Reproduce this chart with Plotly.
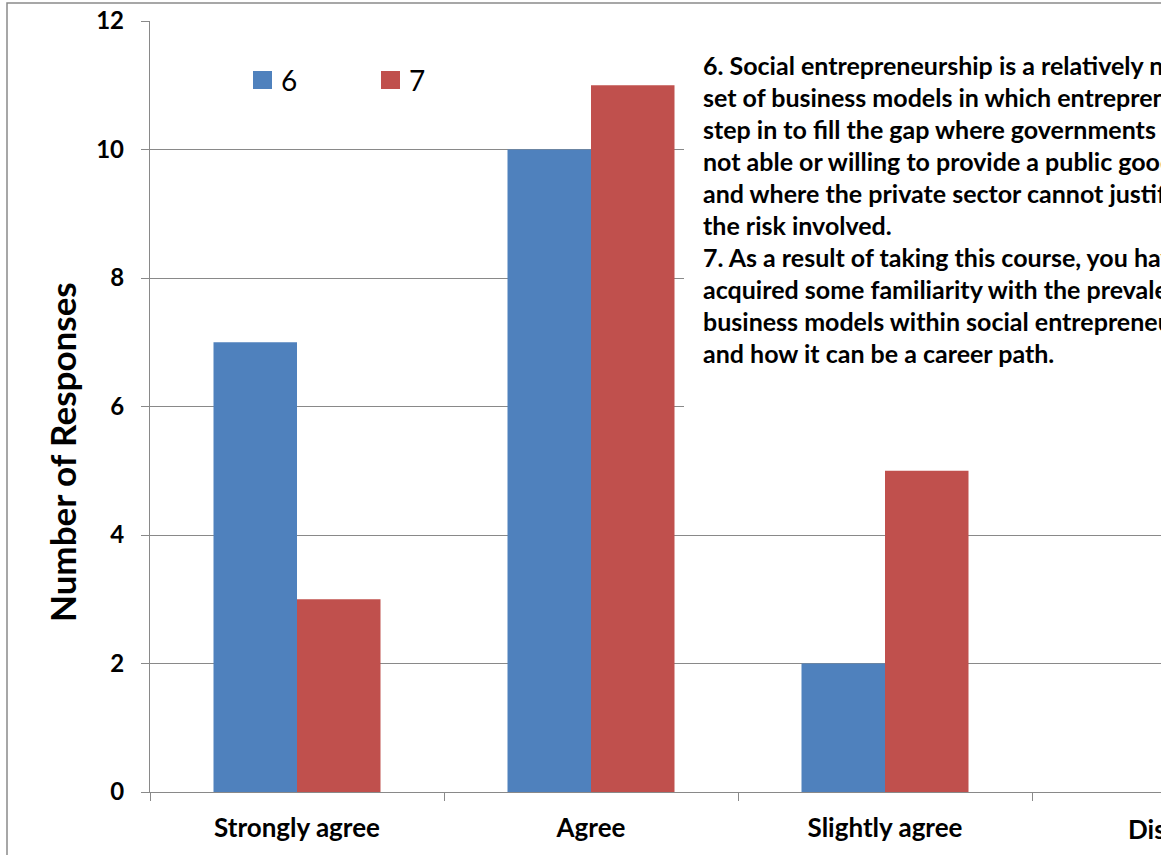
import plotly.graph_objects as go

categories = ["Strongly agree", "Agree", "Slightly agree", "Disagree"]
series_names = ["6", "7"]
values_6 = [7, 10, 2, 0]
values_7 = [3, 11, 5, 0]
y_ticks = [0, 2, 4, 6, 8, 10, 12]
note_lines = [
    "6. Social entrepreneurship is a relatively new",
    "set of business models in which entrepreneurs",
    "step in to fill the gap where governments are",
    "not able or willing to provide a public good",
    "and where the private sector cannot justify",
    "the risk involved.",
    "7. As a result of taking this course, you have",
    "acquired some familiarity with the prevalent",
    "business models within social entrepreneurship",
    "and how it can be a career path.",
]

W, H = 1161, 855
L, T, B, R = 150, 21, 63, 0
PW = W - L - R
PH = H - T - B
CAT_PX = 294.0
x_range = [-0.5, -0.5 + PW / CAT_PX]

def px_x(px):
    return (px - L) / PW

def px_y(py):
    return (H - B - py) / PH

FONT = "Lato"
BLUE = "#4F81BD"
RED = "#C0504D"
GRID = "#898989"
colors = [BLUE, RED]

fig = go.Figure()
fig.add_trace(go.Bar(x=categories, y=values_6, name=series_names[0],
                     marker=dict(color=BLUE, line=dict(width=0))))
fig.add_trace(go.Bar(x=categories, y=values_7, name=series_names[1],
                     marker=dict(color=RED, line=dict(width=0))))

fig.update_layout(
    width=W, height=H,
    margin=dict(l=L, r=R, t=T, b=B, pad=0),
    paper_bgcolor="white", plot_bgcolor="white",
    barmode="group", bargap=0.432, bargroupgap=0,
    font=dict(family=FONT, color="black"),
    showlegend=False,
)

fig.update_xaxes(
    type="category", range=x_range, tickson="boundaries",
    ticks="outside", ticklen=8, tickcolor=GRID, tickwidth=1.3,
    showline=True, linecolor=GRID, linewidth=1.3,
    showgrid=False, zeroline=False,
    tickfont=dict(size=26, family=FONT, color="black", weight="bold"),
    ticklabelstandoff=13,
)
fig.update_yaxes(
    range=[0, 12], tickvals=y_ticks,
    ticks="outside", ticklen=8, tickcolor=GRID, tickwidth=1.3,
    showline=True, linecolor=GRID, linewidth=1.3,
    showgrid=True, gridcolor=GRID, gridwidth=1.3, zeroline=False,
    tickfont=dict(size=24, family=FONT, color="black", weight="bold"),
    ticklabelstandoff=12,
)

# outer chart border (left and top visible)
fig.add_shape(type="rect", xref="paper", yref="paper",
              x0=px_x(7), x1=px_x(1300), y0=px_y(900), y1=px_y(3),
              line=dict(color="#8a8a8a", width=1.5), fillcolor="rgba(0,0,0,0)", layer="above")

# white text box
fig.add_shape(type="rect", xref="paper", yref="paper",
              x0=px_x(684), x1=px_x(1300), y0=px_y(420), y1=px_y(38),
              line=dict(width=0), fillcolor="white", layer="above")

for i, line in enumerate(note_lines):
    fig.add_annotation(xref="paper", yref="paper", x=px_x(701), y=px_y(65 + 32 * i),
                       xanchor="left", yanchor="middle", showarrow=False, text=line,
                       font=dict(size=25, family=FONT, color="black", weight="bold"))

# legend (square keys + labels)
legend_x = [253, 381]
for name, col, lx in zip(series_names, colors, legend_x):
    fig.add_shape(type="rect", xref="paper", yref="paper",
                  x0=px_x(lx), x1=px_x(lx + 19), y0=px_y(89), y1=px_y(71),
                  line=dict(width=0), fillcolor=col, layer="above")
    fig.add_annotation(xref="paper", yref="paper", x=px_x(lx + 26), y=px_y(80),
                       xanchor="left", yanchor="middle", showarrow=False, text=name,
                       font=dict(size=28, family=FONT, color="black"))

# y-axis title
fig.add_annotation(xref="paper", yref="paper", x=px_x(62), y=px_y(452),
                   xanchor="center", yanchor="middle", showarrow=False, textangle=-90,
                   text="Number of Responses",
                   font=dict(size=35, family=FONT, color="black", weight="bold"))

# last category label (its center lies beyond the visible range)
cat_idx = 3
fig.add_annotation(xref="paper", yref="paper",
                   x=(cat_idx - x_range[0]) / (x_range[1] - x_range[0]), y=px_y(829),
                   xanchor="center", yanchor="middle", showarrow=False, text=categories[cat_idx],
                   font=dict(size=26, family=FONT, color="black", weight="bold"))

fig.write_html("out.html", config={"displayModeBar": False},
               post_script="document.body.style.margin='0';")
